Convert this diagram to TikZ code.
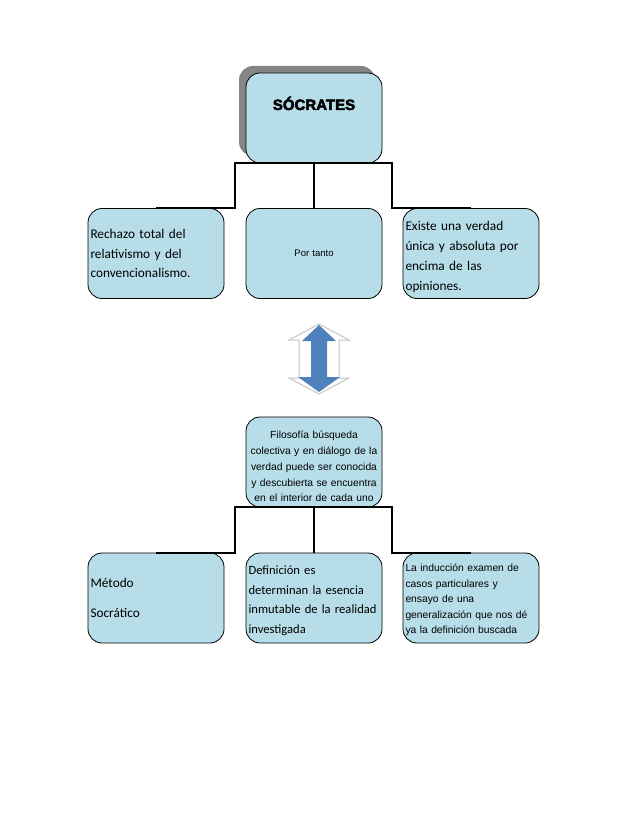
\documentclass[tikz,border=0pt]{standalone}
\usepackage{fontspec}
\setmainfont{Carlito}
\newfontfamily\arial{Liberation Sans}
\newfontfamily\heavy{Liberation Sans}[BoldFeatures={FakeBold=3}]
\usetikzlibrary{shadows}
\definecolor{boxfill}{HTML}{B7DDE8}
\definecolor{arrowblue}{HTML}{4F81BD}
\definecolor{shadowgray}{HTML}{858585}
\tikzset{
  box/.style={draw=black, line width=0.8pt, fill=boxfill, rounded corners=14pt,
    minimum width=136pt, minimum height=90pt, inner xsep=2.5pt, inner ysep=2pt,
    text width=131pt},
  calib/.style={font=\fontsize{13.3}{19.5}\selectfont, align=left},
  arialtext/.style={font=\arial\fontsize{10.3}{15.8}\selectfont},
  conn/.style={draw=black, line width=1.8pt},
}
\begin{document}
\begin{tikzpicture}[x=1pt,y=-1pt]
\useasboundingbox (0,0) rectangle (638,826);
% top
\node[box, align=center, text height=11pt, text depth=27pt,
  drop shadow={shadow xshift=-7pt, shadow yshift=7pt, fill=shadowgray, opacity=1}]
  (soc) at (314,118) {\heavy\bfseries\fontsize{15}{18}\selectfont SÓCRATES};
% row 1
\node[box, calib] (r1a) at (156,253.5) {Rechazo total del\\relativismo y del\\convencionalismo.};
\node[box, align=center, font=\arial\fontsize{9.5}{12}\selectfont] (r1b) at (314,253.5) {Por tanto};
\node[box, calib, font=\fontsize{13.3}{20}\selectfont] (r1c) at (471,253.5) {\rule{0pt}{16pt}Existe una verdad\\única y absoluta por\\encima de las\\opiniones.};
\coordinate (j1l) at (235,163);
\coordinate (j1r) at (392,163);
\draw[conn] (r1a.north) -| (j1l) -- (j1r) |- (r1c.north);
\draw[conn] (soc.south) -- (r1b.north);
% double arrow
\filldraw[fill=white, draw=gray!45, line width=1pt]
  (319,324) -- (349,340) -- (339,340) -- (339,378) -- (349,378) -- (319,394)
  -- (289,378) -- (299,378) -- (299,340) -- (289,340) -- cycle;
\fill[arrowblue]
  (319,325) -- (336,341) -- (327,341) -- (327,377) -- (340,377) -- (319,392)
  -- (298,377) -- (311,377) -- (311,341) -- (302,341) -- cycle;
% row 2
\node[box, align=center, arialtext] (mid) at (314,462)
  {\rule{0pt}{16.5pt}Filosofía búsqueda\\colectiva y en diálogo de la\\verdad puede ser conocida\\y descubierta se encuentra\\en el interior de cada uno};
\node[box, calib] (r2a) at (156,598) {Método\\[10pt]Socrático};
\node[box, calib, font=\fontsize{12.6}{19.5}\selectfont] (r2b) at (314,598) {\rule{0pt}{14pt}Definición es\\determinan la esencia\\inmutable de la realidad\\investigada};
\node[box, align=left, arialtext, font=\arial\fontsize{10.3}{15.5}\selectfont] (r2c) at (471,598)
  {\rule{0pt}{12pt}La inducción examen de\\casos particulares y\\ensayo de una\\generalización que nos dé\\ya la definición buscada};
\coordinate (j2l) at (235,507);
\coordinate (j2r) at (392,507);
\draw[conn] (r2a.north) -| (j2l) -- (j2r) |- (r2c.north);
\draw[conn] (mid.south) -- (r2b.north);
\end{tikzpicture}
\end{document}
